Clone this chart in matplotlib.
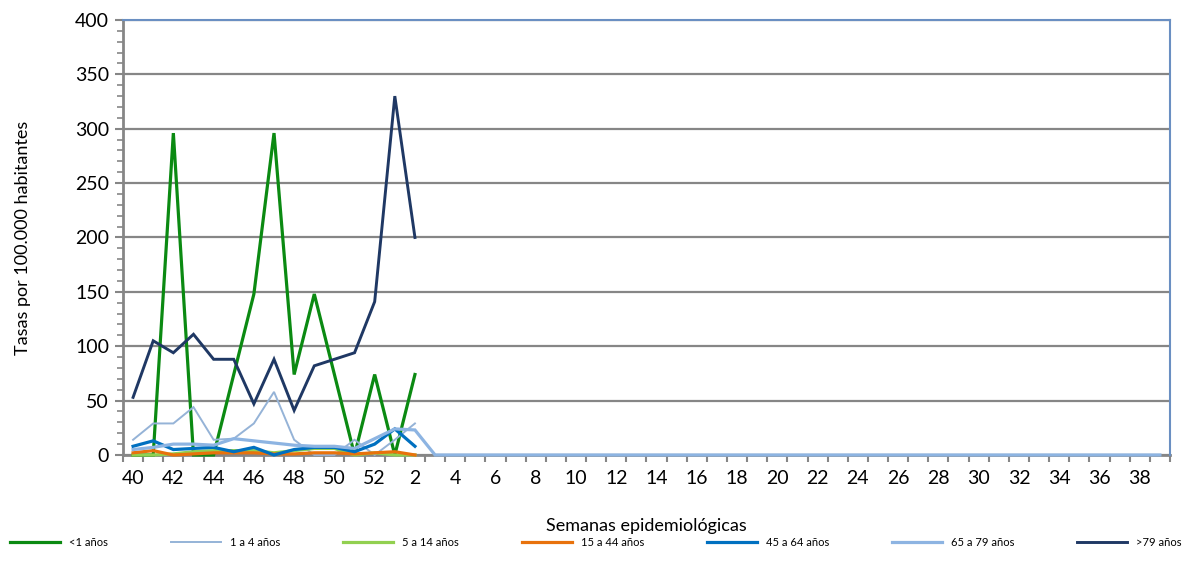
import matplotlib
matplotlib.use("Agg")
import matplotlib.pyplot as plt
from matplotlib.ticker import MultipleLocator

plt.rcParams["font.family"] = ["Lato", "DejaVu Sans"]

# epidemiological weeks 40..52 then 1..39
weeks = list(range(40, 53)) + list(range(1, 40))

# rates per 100.000 (weeks 40..2)
lt1 = [0, 0, 296, 0, 0, 74, 148, 296, 74, 148, 74, 0, 74, 0, 74]
a1_4 = [14, 29, 29, 44, 14, 15, 29, 58, 14, 0, 0, 14, 0, 14, 29]
a5_14 = [0, 0, 1, 3, 4, 4, 4, 2, 4, 6, 6, 0, 2, 0, 0]
a15_44 = [2, 4, 0, 1, 2, 2, 2, 1, 1, 2, 2, 1, 2, 3, 0]
a45_64 = [8, 13, 5, 6, 7, 3, 7, 0, 5, 7, 7, 3, 10, 24, 8]
a65_79 = [5, 7, 10, 10, 9, 15, 13, 11, 9, 8, 8, 6, 15, 24, 23] + [0] * 37
gt79 = [53, 105, 94, 111, 88, 88, 47, 88, 41, 82, 88, 94, 141, 330, 200]

series = [
    ("<1 años", lt1, "#0B8A12", 2.3),
    ("1 a 4 años", a1_4, "#95B3D7", 1.4),
    ("5 a 14 años", a5_14, "#92D050", 2.3),
    ("15 a 44 años", a15_44, "#E8720C", 2.3),
    ("45 a 64 años", a45_64, "#0070C0", 2.3),
    ("65 a 79 años", a65_79, "#8DB4E2", 2.3),
    (">79 años", gt79, "#1F3864", 2.1),
]

fig = plt.figure(figsize=(11.92, 5.76), dpi=100)
ax = fig.add_axes([0.1032, 0.2101, 0.8783, 0.7552])

for name, vals, color, lw in series:
    ax.plot(range(len(vals)), vals, color=color, lw=lw, label=name,
            solid_joinstyle="miter", zorder=3, clip_on=False)

ax.set_xlim(-0.5, len(weeks) - 0.5)
ax.set_ylim(0, 400)

# y axis: major every 50 with gridlines, minor ticks every 10
ax.yaxis.set_major_locator(MultipleLocator(50))
ax.yaxis.set_minor_locator(MultipleLocator(10))
ax.grid(axis="y", color="#868686", lw=1.6)
ax.set_axisbelow(True)
ax.tick_params(axis="y", which="major", length=6, width=1.5, color="#868686",
               labelsize=14, pad=4)
ax.tick_params(axis="y", which="minor", length=4, width=1.2, color="#868686")

# x axis: marks between categories, labels every other week
ax.set_xticks(range(0, len(weeks), 2))
ax.set_xticklabels([str(w) for w in weeks[::2]])
ax.set_xticks([i - 0.5 for i in range(len(weeks) + 1)], minor=True)
ax.tick_params(axis="x", which="major", length=0, labelsize=14, pad=11)
ax.tick_params(axis="x", which="minor", length=5, width=1.5, color="#868686")

for side in ("left", "bottom"):
    ax.spines[side].set_color("#868686")
    ax.spines[side].set_linewidth(2)
    ax.spines[side].set_zorder(2)
for side in ("top", "right"):
    ax.spines[side].set_color("#6A8FC2")
    ax.spines[side].set_linewidth(1.5)

ax.set_ylabel("Tasas por 100.000 habitantes", fontsize=13, labelpad=32)
ax.set_xlabel("Semanas epidemiológicas", fontsize=13, labelpad=22)

fig.legend(loc="center", bbox_to_anchor=(0.005, 0.039, 0.99, 0.04),
           mode="expand", ncol=7, frameon=False, fontsize=8,
           handlelength=4.5, borderaxespad=0.0)

fig.savefig("out.png", dpi=100)
